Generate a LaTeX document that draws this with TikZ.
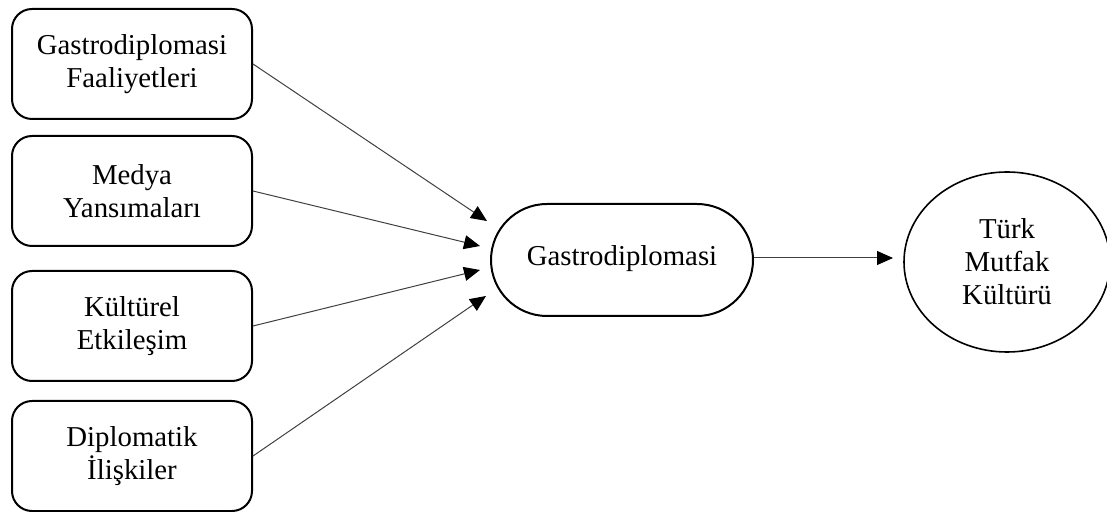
\documentclass[tikz,border=0pt]{standalone}
\usepackage{fontspec}
\setmainfont{Liberation Serif}
\usepackage{tikz}
\usetikzlibrary{arrows.meta,shapes.geometric}
\tikzset{
    factor/.style={draw,line width=1pt,rounded corners=10pt,minimum width=120pt,minimum height=55pt,align=center,inner sep=0pt},
    hub/.style={draw,line width=1pt,rounded corners=28pt,minimum width=131pt,minimum height=56pt,align=center,inner sep=0pt},
    target/.style={draw,line width=0.8pt,ellipse,minimum width=103pt,minimum height=90pt,align=center,inner sep=0pt},
    link/.style={line width=0.5pt,draw=black!75,-{Triangle[length=8pt,width=7pt,color=black]}}
}

\begin{document}
\begin{tikzpicture}[x=0.5pt,y=-0.5pt,font=\fontsize{14.4}{16.5}\selectfont]
    \useasboundingbox (0,0) rectangle (1107,512);
    \node[factor] (f1) at (132,64) {Gastrodiplomasi\\Faaliyetleri};
    \node[factor] (f2) at (132,191) {Medya\\Yansımaları};
    \node[factor] (f3) at (132,326) {Kültürel\\Etkileşim};
    \node[factor] (f4) at (132,456) {Diplomatik\\İlişkiler};
    \node[hub] (gastro) at (622,260) {\raisebox{4pt}{Gastrodiplomasi}};
    \node[target] (tmk) at (1007,262) {Türk\\Mutfak\\Kültürü};
    \coordinate (in1) at (487,221);
    \coordinate (in2) at (480,246);
    \coordinate (in3) at (480,270);
    \coordinate (in4) at (486,296);
    \coordinate (out) at (893,258);
    \draw[link] (f1.east) -- (in1);
    \draw[link] (f2.east) -- (in2);
    \draw[link] (f3.east) -- (in3);
    \draw[link] (f4.east) -- (in4);
    \draw[link] (gastro.east |- out) -- (out);
\end{tikzpicture}
\end{document}
